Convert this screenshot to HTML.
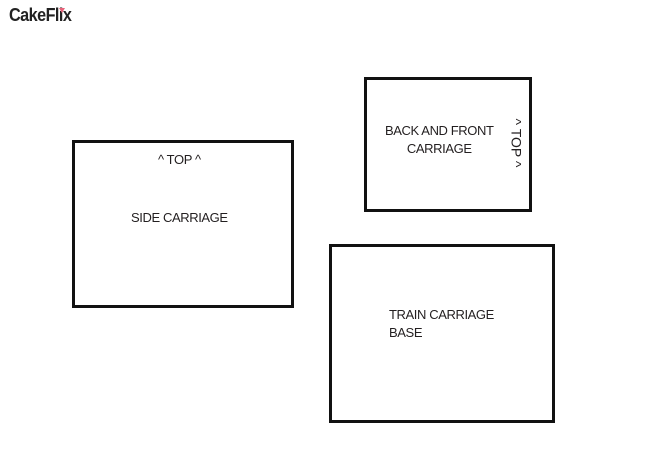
<!DOCTYPE html>
<html><head><meta charset="utf-8"><style>
html,body{margin:0;padding:0;background:#fff;}
body{width:652px;height:473px;position:relative;overflow:hidden;font-family:"Liberation Sans",sans-serif;color:#231f20;}
.b{position:absolute;border:3px solid #111;box-sizing:border-box;}
.t{position:absolute;font-size:13px;white-space:nowrap;letter-spacing:-0.4px;line-height:18px;}
</style></head><body>
<div class="t" style="left:9px;top:6px;font-size:18px;font-weight:bold;letter-spacing:-0.6px;color:#222;transform:scaleX(0.9);transform-origin:left top;">CakeFlix</div>
<div style="position:absolute;left:59px;top:8px;width:0;height:0;border-left:3px solid transparent;border-right:3px solid transparent;border-top:5px solid #e8637a;"></div>
<div class="b" style="left:72px;top:140px;width:222px;height:168px;"></div>
<div class="b" style="left:364px;top:77px;width:168px;height:135px;"></div>
<div class="b" style="left:329px;top:244px;width:226px;height:179px;"></div>
<div class="t" style="left:158px;top:151px;">^ TOP ^</div>
<div class="t" style="left:131px;top:209px;">SIDE CARRIAGE</div>
<div class="t" style="left:385px;top:122px;text-align:center;">BACK AND FRONT<br>CARRIAGE</div>
<div class="t" style="left:492px;top:134px;transform:rotate(90deg);font-size:14px;letter-spacing:0;">^ TOP ^</div>
<div class="t" style="left:389px;top:306px;">TRAIN CARRIAGE<br>BASE</div>
</body></html>
